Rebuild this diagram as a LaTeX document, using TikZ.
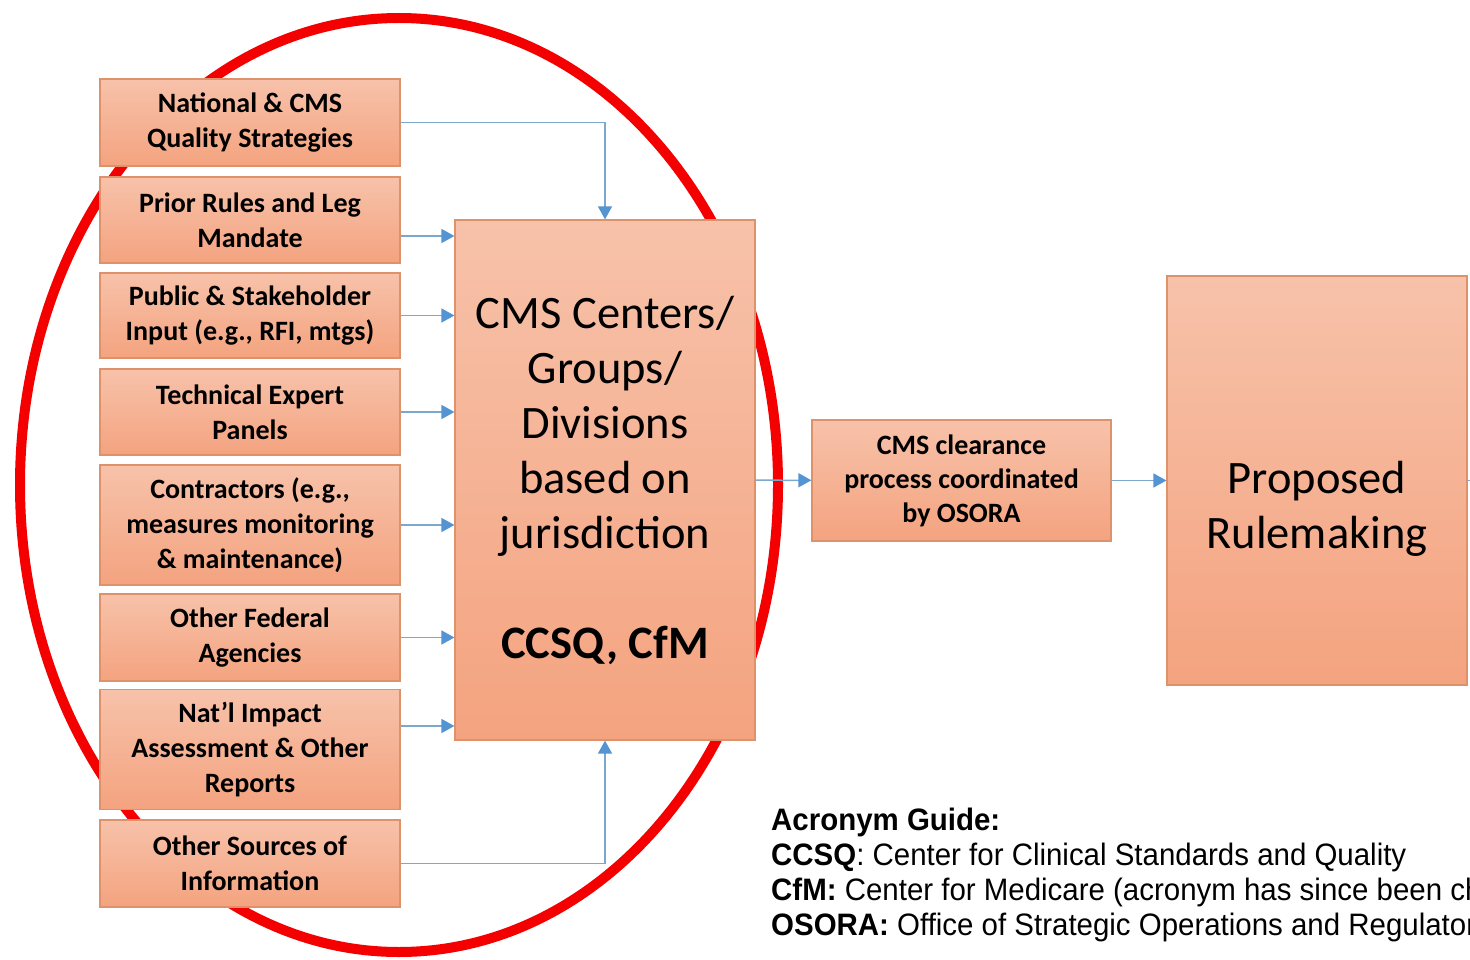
\documentclass[tikz,border=0pt]{standalone}
\usepackage{fontspec}
\setmainfont{Carlito}
\newfontfamily\guidefont[FakeStretch=0.95]{Liberation Sans}
\usetikzlibrary{arrows.meta,positioning}

\definecolor{ringred}{RGB}{245,0,0}
\definecolor{boxtop}{RGB}{247,194,170}
\definecolor{boxbottom}{RGB}{244,163,127}
\definecolor{boxline}{RGB}{222,146,108}
\definecolor{linkblue}{RGB}{125,168,205}
\definecolor{tipblue}{RGB}{84,148,210}

\tikzset{
  source/.style={draw=boxline, line width=1.2pt, top color=boxtop, bottom color=boxbottom,
    minimum width=300pt, inner sep=0pt, align=center,
    font=\bfseries\fontsize{28}{35}\selectfont},
  bigbox/.style={source, font=\fontsize{46.5}{55}\selectfont},
  feed/.style={draw=linkblue, line width=1.5pt, -{Triangle[width=14pt,length=13pt,color=tipblue]}},
  ring/.style={draw=ringred, line width=10pt}
}

\begin{document}
\begin{tikzpicture}[x=1pt,y=-1pt]
\useasboundingbox (0,0) rectangle (1470,960);

% Draw the red ring behind the inputs
\draw[ring] (399,485) ellipse [x radius=379pt, y radius=467pt];

% Define the input boxes
\node[source, minimum height=87pt] (b1) at (250,122.5) {National \& CMS\\Quality Strategies};
\node[source, minimum height=86pt] (b2) at (250,220) {Prior Rules and Leg\\Mandate};
\node[source, minimum height=85pt] (b3) at (250,315.5) {Public \& Stakeholder\\Input (e.g., RFI, mtgs)};
\node[source, minimum height=86pt] (b4) at (250,412) {Technical Expert\\Panels};
\node[source, minimum height=120pt] (b5) at (250,525) {Contractors (e.g.,\\measures monitoring\\\& maintenance)};
\node[source, minimum height=87pt] (b6) at (250,637.5) {Other Federal\\Agencies};
\node[source, minimum height=120pt] (b7) at (250,749.5) {Nat’l Impact\\Assessment \& Other\\Reports};
\node[source, minimum height=87pt] (b8) at (250,863.5) {Other Sources of\\Information};

% Define the process boxes
\node[bigbox, minimum height=520pt] (main) at (605,480) {CMS Centers/\\Groups/\\Divisions\\based on\\jurisdiction\\[55pt]{\bfseries CCSQ, CfM}};
\node[source, minimum width=299pt, minimum height=121pt, font=\bfseries\fontsize{28}{34}\selectfont] (clear) at (961.5,480.5) {CMS clearance\\process coordinated\\by OSORA};
\node[bigbox, minimum height=409pt] (prop) at (1317,480.5) {};
\node[font=\fontsize{46.5}{55}\selectfont, align=center, inner sep=0pt] (proptext) at ([yshift=-28pt]prop.center) {Proposed\\Rulemaking};
\coordinate (onward) at (1490,480.5);

% Draw the arrows into the main box
\draw[feed] (b1.east) -| (main.north);
\draw[feed] ([yshift=-16pt]b2.east) -- ([yshift=-16pt]b2.east -| main.west);
\foreach \b in {b3,b4,b5,b6}
    \draw[feed] (\b.east) -- (\b.east -| main.west);
\draw[feed] ([yshift=23.5pt]b7.east) -- ([yshift=23.5pt]b7.east -| main.west);
\draw[feed] (b8.east) -| (main.south);

% Draw the arrows along the process
\draw[feed] (main) -- (clear);
\draw[feed] (clear) -- (prop);
\draw[draw=linkblue, line width=1.5pt] (prop.east) -- (onward);

% Acronym guide
\node[anchor=north west, inner sep=0pt, align=left, font=\guidefont\fontsize{31}{35}\selectfont] (guide) at (771,808)
  {\textbf{Acronym Guide:}\\
   \textbf{CCSQ}: Center for Clinical Standards and Quality\\
   \textbf{CfM:} Center for Medicare (acronym has since been ch\\
   \textbf{OSORA:} Office of Strategic Operations and Regulator};
\end{tikzpicture}
\end{document}
